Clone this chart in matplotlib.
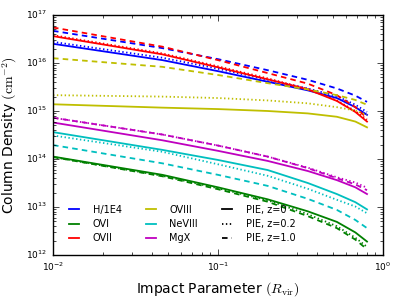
import matplotlib
matplotlib.use('Agg')
import matplotlib.pyplot as plt

plt.style.use('classic')
plt.rcParams['figure.facecolor'] = 'white'
plt.rcParams['savefig.facecolor'] = 'white'
plt.rcParams['font.family'] = ['DejaVu Sans']
plt.rcParams['mathtext.fontset'] = 'cm'

# impact parameter (R_vir)
b = [0.01, 0.046, 0.1, 0.2, 0.35, 0.525, 0.68, 0.8]

# log10 column density, [solid z=0, dotted z=0.2, dashed z=1.0]
h_1e4 = [[16.40, 16.06, 15.83, 15.61, 15.43, 15.27, 15.08, 14.92],
         [16.44, 16.11, 15.88, 15.65, 15.47, 15.31, 15.13, 14.98],
         [16.67, 16.31, 16.08, 15.85, 15.65, 15.47, 15.32, 15.19]]
o6 = [[14.05, 13.67, 13.41, 13.16, 12.91, 12.69, 12.47, 12.28],
      [14.04, 13.65, 13.39, 13.14, 12.85, 12.60, 12.36, 12.17],
      [14.04, 13.64, 13.37, 13.11, 12.81, 12.56, 12.32, 12.12]]
o7 = [[16.56, 16.18, 15.91, 15.66, 15.45, 15.21, 14.98, 14.78],
      [16.58, 16.20, 15.93, 15.68, 15.46, 15.22, 15.00, 14.82],
      [16.74, 16.34, 16.06, 15.79, 15.57, 15.33, 15.08, 14.85]]
o8 = [[15.14, 15.07, 15.04, 15.00, 14.95, 14.88, 14.78, 14.66],
      [15.33, 15.30, 15.27, 15.22, 15.16, 15.08, 15.01, 14.92],
      [16.10, 15.92, 15.75, 15.58, 15.45, 15.33, 15.23, 15.13]]
ne8 = [[14.56, 14.19, 13.98, 13.77, 13.50, 13.27, 13.10, 12.95],
       [14.49, 14.15, 13.89, 13.65, 13.38, 13.15, 13.01, 12.87],
       [14.29, 13.91, 13.67, 13.44, 13.17, 12.94, 12.73, 12.56]]
mg10 = [[14.76, 14.39, 14.17, 13.96, 13.75, 13.56, 13.41, 13.27],
        [14.86, 14.51, 14.28, 14.05, 13.82, 13.62, 13.51, 13.40],
        [14.86, 14.51, 14.28, 14.05, 13.81, 13.60, 13.47, 13.35]]

ions = ['H/1E4', 'OVI', 'OVII', 'OVIII', 'NeVIII', 'MgX']
data = [h_1e4, o6, o7, o8, ne8, mg10]
colors = ['b', 'g', 'r', 'y', 'c', 'm']
styles = ['-', ':', '--']
dash_seq = [None, (1, 1.8), (4, 3)]
style_labels = ['PIE, z=0', 'PIE, z=0.2', 'PIE, z=1.0']

fig = plt.figure(figsize=(3.99, 2.99), dpi=100)
ax = fig.add_axes([53/399, 44/299, 330/399, 240/299])

for ion, vals, c in zip(ions, data, colors):
    for v, ls, d in zip(vals, styles, dash_seq):
        line, = ax.plot(b, [10**y for y in v], color=c, ls=ls, lw=1.3)
        if d is not None:
            line.set_dashes(d)

ax.set_xscale('log')
ax.set_yscale('log')
ax.set_xlim(1e-2, 1)
ax.set_ylim(1e12, 1e17)
ax.tick_params(labelsize=6.5)
ax.set_xlabel(r'Impact Parameter $(R_{\rm vir})$', fontsize=10)
ax.set_ylabel(r'Column Density $(\mathrm{cm}^{-2})$', fontsize=10)

handles = []
for ion, c in zip(ions, colors):
    handles.append(plt.Line2D([], [], color=c, lw=1.3, label=ion))
for ls, d, lab in zip(styles, dash_seq, style_labels):
    h = plt.Line2D([], [], color='k', ls=ls, lw=1.3, label=lab)
    if d is not None:
        h.set_dashes(d)
    handles.append(h)
ax.legend(handles=handles, loc='lower left', ncol=3, frameon=False,
          fontsize=7, handlelength=1.6, handletextpad=1.1, labelspacing=0.45,
          columnspacing=2.2, borderaxespad=0.3, bbox_to_anchor=(0.02, 0.02))

fig.savefig('out.png', dpi=100)
